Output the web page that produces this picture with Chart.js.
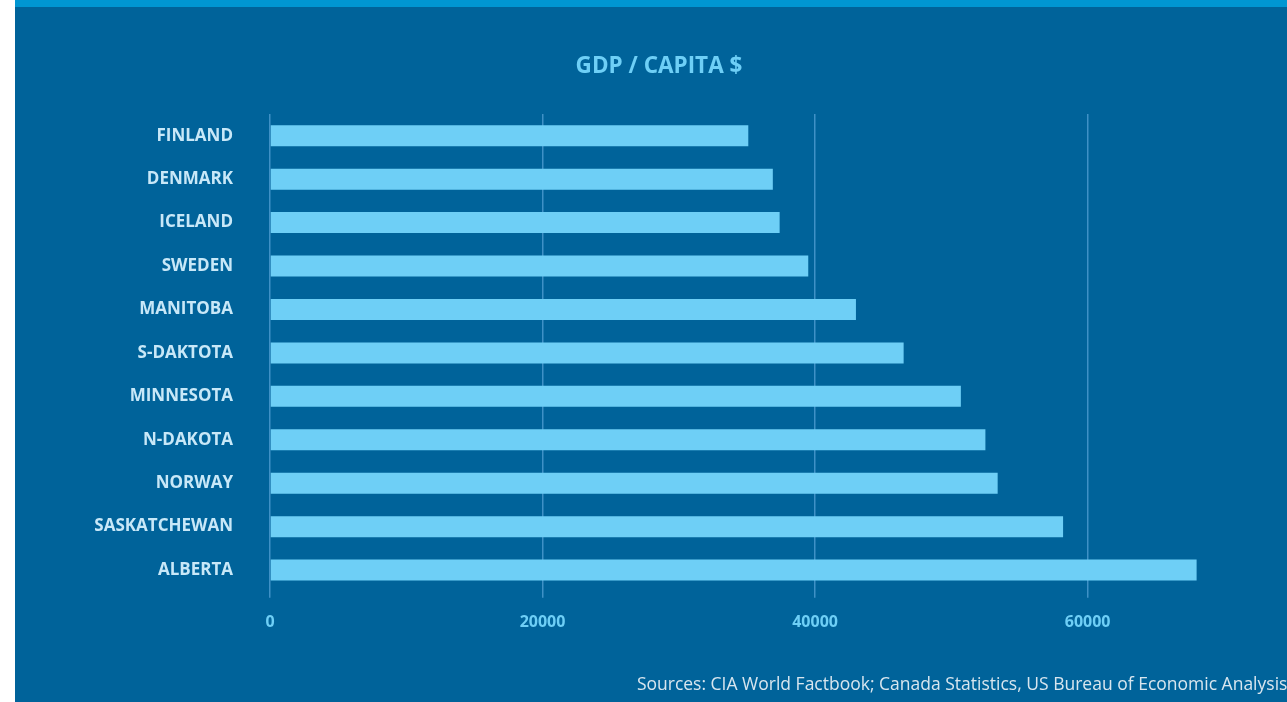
<!DOCTYPE html>
<html>
<head>
<meta charset="utf-8">
<script src="https://cdn.jsdelivr.net/npm/chart.js@4"></script>
<style>
    html, body { margin: 0; padding: 0; background: #ffffff; overflow: hidden; }
    #topbar { position: absolute; left: 15px; top: 0; width: 1300px; height: 7px; background: #0096d2; }
    #wrap { position: absolute; left: 15px; top: 7px; width: 1286px; height: 695px; background: #00639a; }
</style>
</head>
<body>
<div id="topbar"></div>
<div id="wrap"><canvas id="gdp_graph"></canvas></div>
<script>
// regions, top to bottom
const regions = ["FINLAND", "DENMARK", "ICELAND", "SWEDEN", "MANITOBA", "S-DAKTOTA",
                 "MINNESOTA", "N-DAKOTA", "NORWAY", "SASKATCHEWAN", "ALBERTA"];
// GDP per capita in $
const gdp = [35100, 36900, 37400, 39500, 43000, 46500, 50700, 52500, 53400, 58200, 68000];
// values shown on the x axis
const x_ticks = [0, 20000, 40000, 60000];

const title_text  = "GDP / CAPITA $";
const source_text = "Sources: CIA World Factbook; Canada Statistics, US Bureau of Economic Analysis.";

window.addEventListener("load", function (){
    draw_gdp_graph();
});

function draw_gdp_graph(){
    const ctx = document.getElementById("gdp_graph").getContext("2d");
    const myChart = new Chart(ctx, {
        type: "bar",
        data: {
            labels: regions,
            datasets: [{
                label: title_text,
                data: gdp,
                backgroundColor: "#6ecff6",
                borderWidth: 0,
                categoryPercentage: 1.0,
                barPercentage: 0.483
            }]
        },
        options: {
            indexAxis: "y",
            responsive: false,
            animation: false,
            devicePixelRatio: 1,
            layout: { padding: { left: 11, right: 9, top: 0, bottom: 0 } },
            plugins: {
                legend: { display: false },
                tooltip: { enabled: false },
                title: {
                    display: true,
                    text: title_text,
                    color: "#6ecff6",
                    font: { family: "'Open Sans'", size: 22.5, weight: "bold" },
                    padding: { top: 46, bottom: 34 }
                },
                subtitle: {
                    display: true,
                    position: "bottom",
                    align: "end",
                    text: source_text,
                    color: "#d8e6ef",
                    font: { family: "'Open Sans'", size: 17.5, weight: "normal" },
                    padding: { top: 28, bottom: 6 }
                }
            },
            scales: {
                x: {
                    min: 0,
                    max: 75000,
                    afterBuildTicks: function (axis){
                        // keep only the round values
                        axis.ticks = x_ticks.map(v => ({ value: v }));
                    },
                    grid: {
                        color: "#3f91c6",
                        lineWidth: 1.5,
                        drawTicks: true,
                        tickLength: 6,
                        tickColor: "#3f91c6"
                    },
                    border: { display: false },
                    ticks: {
                        color: "#6ecff6",
                        padding: 15,
                        font: { family: "'Open Sans'", size: 16, weight: "bold" },
                        maxRotation: 0,
                        callback: function (value){
                            return String(value);
                        }
                    }
                },
                y: {
                    afterFit: function (axis){
                        axis.width = 244;
                    },
                    grid: { display: false, drawTicks: false },
                    border: { display: false },
                    ticks: {
                        color: "#c8e8f8",
                        padding: 37,
                        font: { family: "'Open Sans'", size: 17, weight: "bold" }
                    }
                }
            }
        }
    });
}
</script>
<script>
    // canvas size is fixed to the blue panel
    const cv = document.getElementById("gdp_graph");
    cv.width = 1286;
    cv.height = 695;
    cv.style.width = "1286px";
    cv.style.height = "695px";
</script>
</body>
</html>
